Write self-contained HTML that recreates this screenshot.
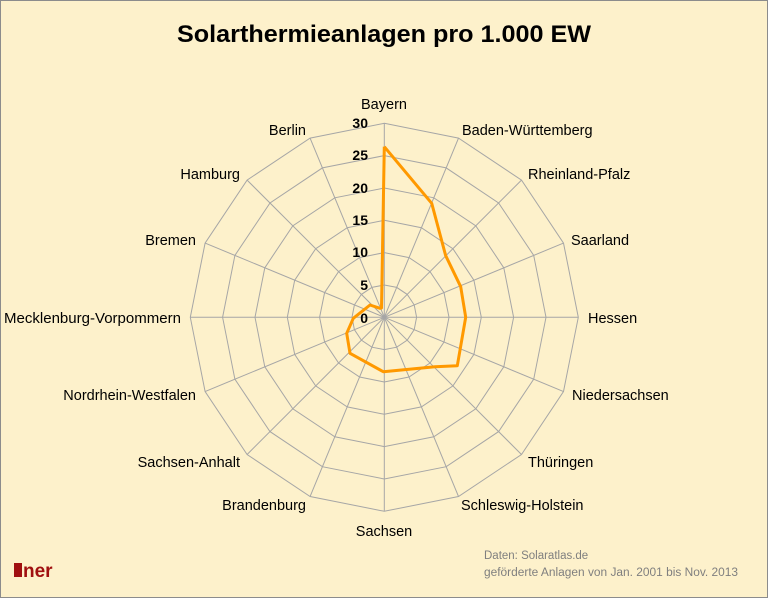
<!DOCTYPE html>
<html><head><meta charset="utf-8"><style>
html,body{margin:0;padding:0;background:#fff}
svg{display:block}
text{font-family:"Liberation Sans",sans-serif}
</style></head><body>
<svg width="769" height="599" viewBox="0 0 769 599" xmlns="http://www.w3.org/2000/svg">
<rect x="0.5" y="0.5" width="767" height="597" fill="#fdf1cb" stroke="#8c8c8c"/>
<text x="384" y="42" text-anchor="middle" font-size="24" font-weight="bold" textLength="414" lengthAdjust="spacingAndGlyphs">Solarthermieanlagen pro 1.000 EW</text>
<g id="grid" stroke="#a6a6a6" stroke-width="1" fill="none"></g>
<g id="lbl" font-size="14.5" fill="#000">
<text x="384" y="109" text-anchor="middle">Bayern</text>
<text x="462" y="135">Baden-Württemberg</text>
<text x="528" y="179">Rheinland-Pfalz</text>
<text x="571" y="245">Saarland</text>
<text x="588" y="323">Hessen</text>
<text x="572" y="400">Niedersachsen</text>
<text x="528" y="467">Thüringen</text>
<text x="461" y="510">Schleswig-Holstein</text>
<text x="384" y="536" text-anchor="middle">Sachsen</text>
<text x="306" y="510" text-anchor="end">Brandenburg</text>
<text x="240" y="467" text-anchor="end">Sachsen-Anhalt</text>
<text x="196" y="400" text-anchor="end">Nordrhein-Westfalen</text>
<text x="181" y="323" text-anchor="end" textLength="177" lengthAdjust="spacingAndGlyphs">Mecklenburg-Vorpommern</text>
<text x="196" y="245" text-anchor="end">Bremen</text>
<text x="240" y="179" text-anchor="end">Hamburg</text>
<text x="306" y="135" text-anchor="end">Berlin</text>
</g>
<g font-size="14" font-weight="bold" text-anchor="end">
<text x="368" y="128">30</text>
<text x="368" y="160">25</text>
<text x="368" y="193">20</text>
<text x="368" y="225">15</text>
<text x="368" y="257">10</text>
<text x="368" y="290">5</text>
<text x="368" y="323">0</text>
</g>
<polyline fill="none" stroke="#ff9900" stroke-width="3" stroke-linejoin="round" points="384.3,146.7 431.7,203.3 445.7,255.7 460.7,286.7 465.7,317.3 457.3,365.7 435,366.7 383.3,371.7 350,353.3 346.7,333.3 353.3,318.3 370,305 380,308.3 381.5,308 384.3,146.7"/>
<rect x="14" y="563" width="8" height="14" fill="#a01010"/>
<text x="23" y="577" font-size="19" fill="#a01010" font-weight="bold">ner</text>
<text x="484" y="559" font-size="11.5" fill="#7f7f7f">Daten: Solaratlas.de</text>
<text x="484" y="576" font-size="11.5" fill="#7f7f7f" textLength="254" lengthAdjust="spacingAndGlyphs">geförderte Anlagen von Jan. 2001 bis  Nov. 2013</text>
</svg>
<script>
var g=document.getElementById('grid'),cx=384.3,cy=317.3,R=194,ns="http://www.w3.org/2000/svg";
for(var k=1;k<=6;k++){var r=R*k/6,p=[];for(var i=0;i<16;i++){var a=i*Math.PI/8;p.push((cx+r*Math.sin(a)).toFixed(1)+","+(cy-r*Math.cos(a)).toFixed(1));}
var e=document.createElementNS(ns,"polygon");e.setAttribute("points",p.join(" "));g.appendChild(e);}
for(var i=0;i<16;i++){var a=i*Math.PI/8,l=document.createElementNS(ns,"line");l.setAttribute("x1",cx);l.setAttribute("y1",cy);l.setAttribute("x2",cx+R*Math.sin(a));l.setAttribute("y2",cy-R*Math.cos(a));g.appendChild(l);}
</script>
</body></html>
